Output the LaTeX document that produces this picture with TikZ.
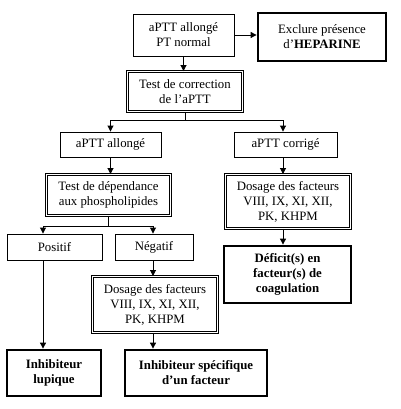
\documentclass[tikz,border=0pt]{standalone}
\usepackage{fontspec}
\setmainfont{Liberation Serif}
\usetikzlibrary{arrows.meta}
\begin{document}
\begin{tikzpicture}[x=1pt, y=-1pt, font=\fontsize{12.8}{15}\selectfont, line join=miter, >={Triangle[width=6pt,length=6pt]},
	box/.style={draw, line width=0.9pt, align=center, inner sep=0pt},
	dbox/.style={box, double=white, double distance=1.6pt, line width=0.9pt},
	tbox/.style={box, line width=2.8pt, font=\fontsize{12.8}{15}\selectfont\bfseries},
	link/.style={->, line width=0.9pt}]
	\useasboundingbox (0,0) rectangle (400,409);
	% top
	\node[box, minimum width=101, minimum height=42] (allonge) at (183.5,35) {aPTT allongé\\PT normal};
	\node[tbox, minimum width=128, minimum height=48] (hep) at (322,37) {\mdseries Exclure présence\\\mdseries d'\textbf{HEPARINE}};
	\node[dbox, minimum width=115, minimum height=40] (corr) at (185,91.5) {Test de correction\\de l'aPTT};
	% second row
	\node[box, minimum width=101, minimum height=25] (long) at (110.5,144.5) {aPTT allongé};
	\node[box, minimum width=103, minimum height=25] (corrige) at (285.5,144.5) {aPTT corrigé};
	\node[dbox, minimum width=124, minimum height=41] (phos) at (108.5,195) {Test de dépendance\\aux phospholipides};
	\node[dbox, minimum width=125, minimum height=54] (dos1) at (288,201.5) {Dosage des facteurs\\VIII, IX, XI, XII,\\PK, KHPM};
	\node[box, minimum width=95, minimum height=26] (pos) at (54.5,247) {Positif};
	\node[box, minimum width=78, minimum height=26] (neg) at (154,247) {Négatif};
	\node[tbox, minimum width=127, minimum height=57] (def) at (287.5,274.5) {Déficit(s) en\\facteur(s) de\\coagulation};
	\node[dbox, minimum width=125, minimum height=56] (dos2) at (155,304.5) {Dosage des facteurs\\VIII, IX, XI, XII,\\PK, KHPM};
	\node[tbox, minimum width=94, minimum height=46] (lup) at (54,373) {Inhibiteur\\lupique};
	\node[tbox, minimum width=142, minimum height=46] (spec) at (196,373) {Inhibiteur spécifique\\d'un facteur};
	\coordinate (xl) at (43,0);
	\coordinate (xr) at (283,0);
	\coordinate (xm) at (153,0);
	% links
	\draw[link] (allonge.east) -- (allonge.east -| hep.west);
	\draw[link] (allonge.south) -- (allonge.south |- corr.north);
	\draw[line width=0.9pt] (corr.south) -- (185,120) coordinate (s1);
	\draw[link] (s1) -| (long.north);
	\draw[link] (s1) -| (corrige.north -| xr);
	\draw[link] (long.south) -- (long.south |- phos.north);
	\draw[link] (corrige.south -| xr) -- (phos.north -| xr);
	\draw[line width=0.9pt] (phos.south) -- (108.5,226) coordinate (s2);
	\draw[link] (s2) -| (pos.north -| xl);
	\draw[link] (s2) -| (neg.north -| xm);
	\draw[link] (dos1.south -| xr) -- (def.north -| xr);
	\draw[link] (neg.south -| xm) -- (dos2.north -| xm);
	\draw[link] (pos.south -| xl) -- (lup.north -| xl);
	\draw[link] (dos2.south -| xm) -- (spec.north -| xm);
\end{tikzpicture}
\end{document}
